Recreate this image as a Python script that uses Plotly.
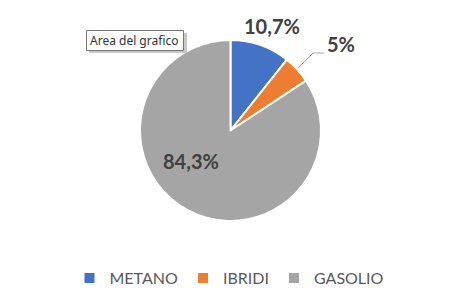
import plotly.graph_objects as go

categories = ["METANO", "IBRIDI", "GASOLIO"]
values = [10.7, 5.0, 84.3]
colors = ["#4472C4", "#ED7D31", "#A5A5A5"]

def fmt(v):
    s = f"{v:.1f}".replace(".", ",")
    if s.endswith(",0"):
        s = s[:-2]
    return s + "%"

labels_text = [fmt(v) for v in values]

W, H = 459, 303
fig = go.Figure()
fig.add_trace(go.Pie(
    labels=categories, values=values, sort=False, direction="clockwise", rotation=0,
    marker=dict(colors=colors, line=dict(color="white", width=2)),
    textinfo="none", hoverinfo="label+percent",
    domain=dict(x=[140 / W, 321 / W], y=[1 - 221 / H, 1 - 40 / H]),
))

label_pos = [(272, 26), (341, 44), (191, 161)]
for t, (px, py) in zip(labels_text, label_pos):
    fig.add_annotation(x=px / W, y=1 - py / H, xref="paper", yref="paper", text=f"<b>{t}</b>",
                       xanchor="center", yanchor="middle",
                       showarrow=False, font=dict(family="Lato, Open Sans, sans-serif", size=20, color="#404040"))

# leader line for small slice
fig.add_shape(type="path", xref="paper", yref="paper",
              path=f"M {298/W},{1-68/H} L {313/W},{1-53/H} L {324/W},{1-53/H}",
              line=dict(color="#A6A6A6", width=1))

# tooltip box with shadow
fig.add_shape(type="rect", xref="paper", yref="paper", x0=89/W, x1=187/W, y0=1-53/H, y1=1-33/H,
              fillcolor="#C8C8C8", line=dict(width=0), layer="above")
fig.add_shape(type="rect", xref="paper", yref="paper", x0=86.5/W, x1=183.5/W, y0=1-50.5/H, y1=1-30.5/H,
              fillcolor="white", line=dict(width=1, color="#767676"), layer="above")
fig.add_annotation(x=134/W, y=1-40/H, xref="paper", yref="paper", xanchor="center", yanchor="middle",
                   text="Area del grafico", showarrow=False,
                   font=dict(family="Noto Sans, Open Sans, sans-serif", size=12, color="#333333"))

fig.update_layout(
    width=W, height=H, margin=dict(l=0, r=0, t=0, b=0),
    paper_bgcolor="white", plot_bgcolor="white",
    showlegend=True,
    legend=dict(orientation="h", x=0.5, xanchor="center", y=1 - 261 / H, yanchor="top",
                font=dict(family="Lato, Open Sans, sans-serif", size=16, color="#595959"),
                itemwidth=30, traceorder="normal"),
)
fig.write_html("out.html")
